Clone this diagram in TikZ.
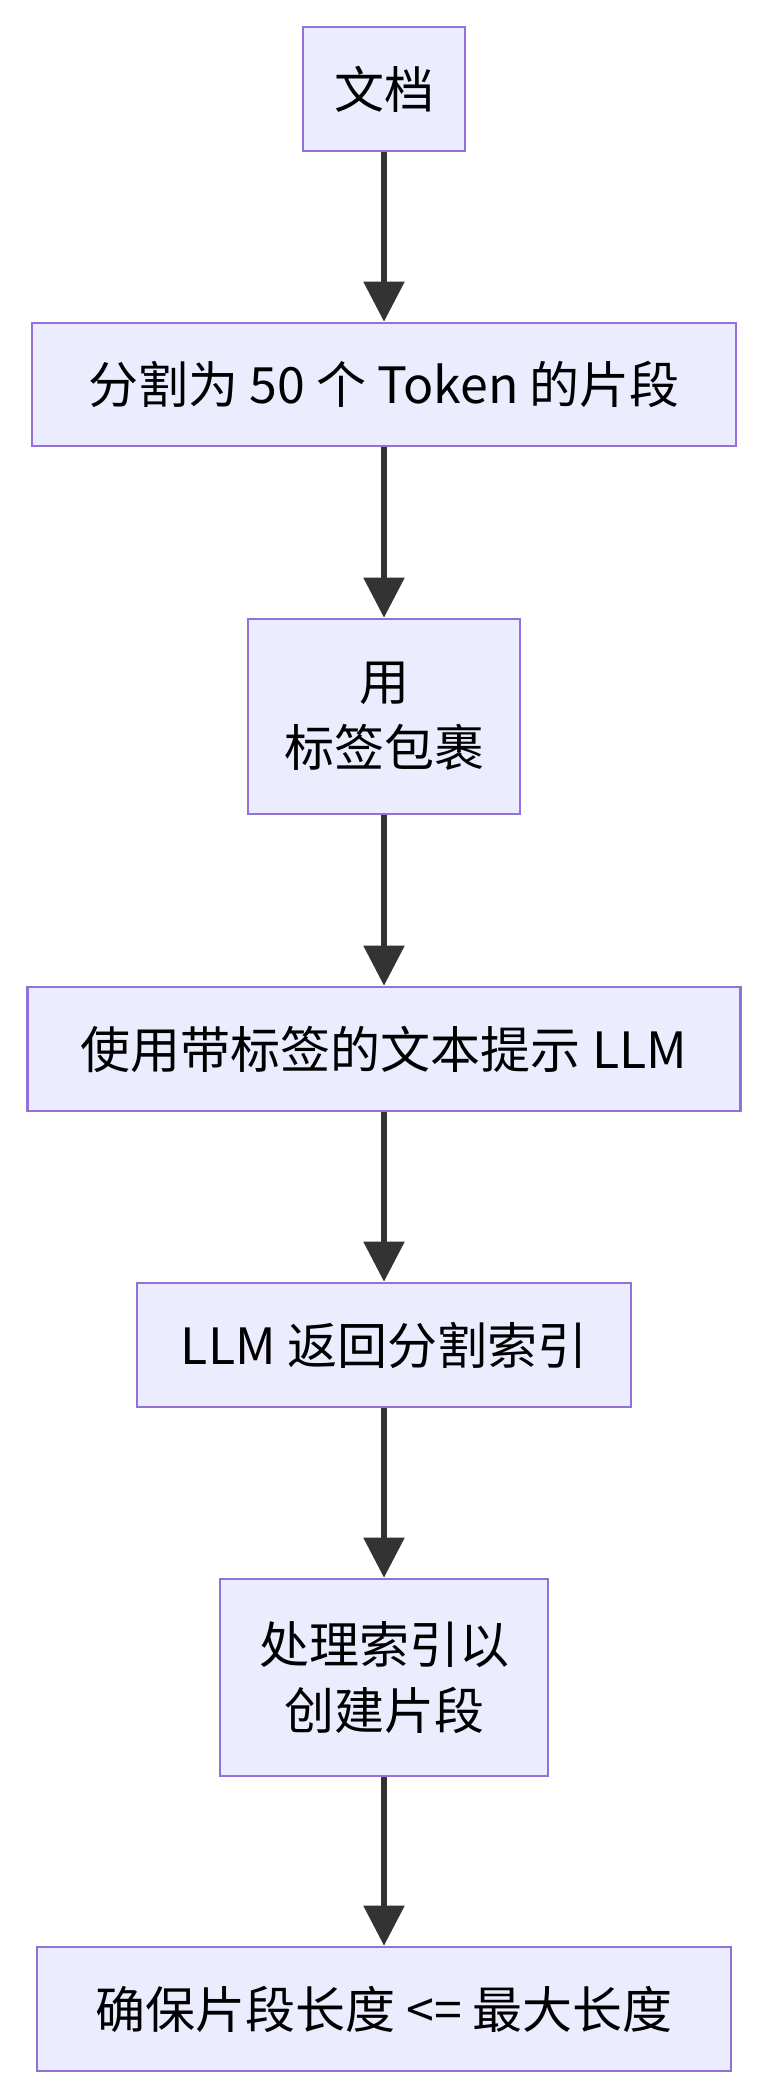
\documentclass[tikz,border=0pt]{standalone}
\usepackage{fontspec}
\setmainfont{Noto Sans CJK SC}
\usetikzlibrary{arrows.meta}
\begin{document}
\begin{tikzpicture}[x=1pt,y=-1pt,
  box/.style={draw=violet!50!blue!40!purple!60, draw={rgb,255:red,147;green,112;blue,219}, fill={rgb,255:red,236;green,236;blue,255}, line width=2.7pt, inner sep=0pt, align=center, font=\fontsize{50}{66}\selectfont},
  arr/.style={draw={rgb,255:red,51;green,51;blue,51}, line width=5.5pt, -{Triangle[length=40pt,width=40pt]}}]
\useasboundingbox (0,0) rectangle (770,2100);
\node[box, minimum width=162pt, minimum height=124pt] (a) at (384,89) {文档};
\node[box, minimum width=704pt, minimum height=123pt] (b) at (384,384.5) {分割为 50 个 Token 的片段};
\node[box, minimum width=272pt, minimum height=195pt] (c) at (384,716.5) {用\\标签包裹};
\node[box, minimum width=713pt, minimum height=124pt] (d) at (384,1049) {使用带标签的文本提示 LLM};
\node[box, minimum width=494pt, minimum height=124pt] (e) at (384,1345) {LLM 返回分割索引};
\node[box, minimum width=328pt, minimum height=197pt] (f) at (384,1677.5) {处理索引以\\创建片段};
\node[box, minimum width=694pt, minimum height=124pt] (g) at (384,2009) {确保片段长度 <= 最大长度};
\draw[arr] (a) -- (b);
\draw[arr] (b) -- (c);
\draw[arr] (c) -- (d);
\draw[arr] (d) -- (e);
\draw[arr] (e) -- (f);
\draw[arr] (f) -- (g);
\end{tikzpicture}
\end{document}
